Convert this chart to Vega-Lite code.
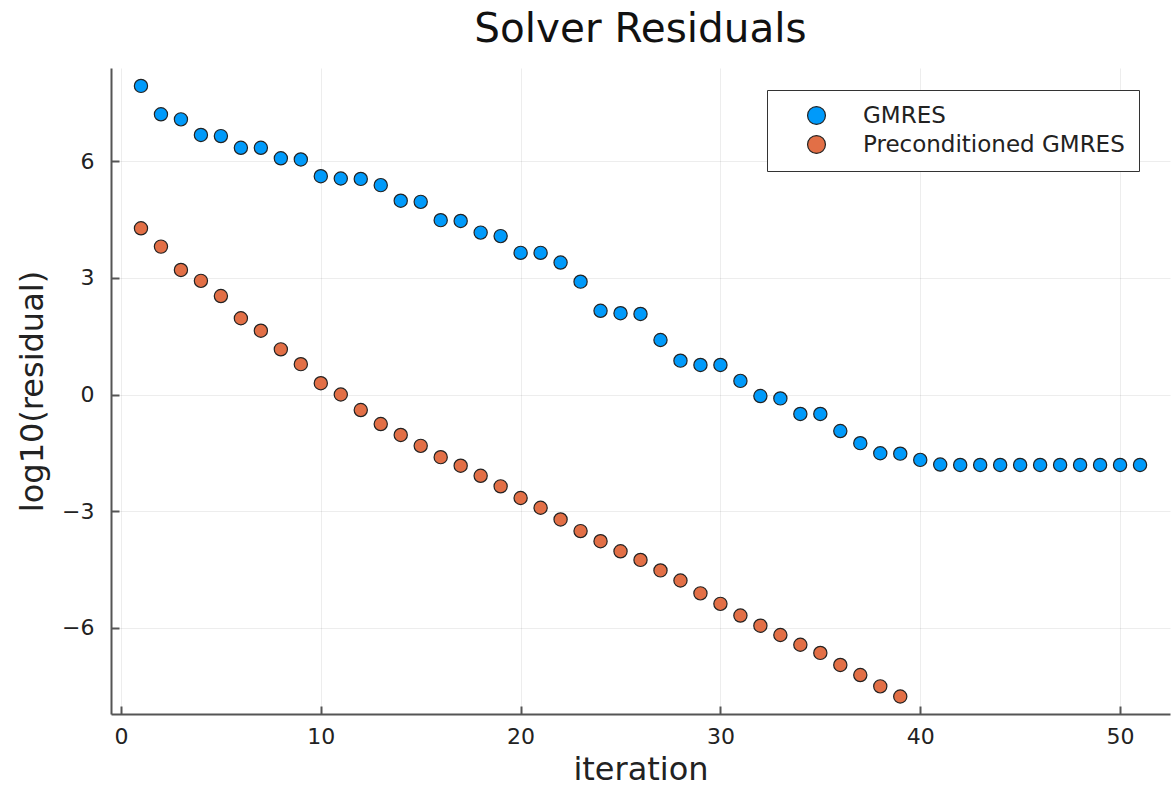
{
  "$schema": "https://vega.github.io/schema/vega-lite/v6.json",
  "width": 1059,
  "height": 646,
  "autosize": {"type": "none"},
  "padding": {"left": 111, "top": 68, "right": 1, "bottom": 77},
  "background": "white",
  "title": {
    "text": "Solver Residuals",
    "font": "DejaVu Sans",
    "fontSize": 40.5,
    "fontWeight": "normal",
    "color": "#111111",
    "anchor": "middle",
    "offset": 18
  },
  "config": {
    "view": {"stroke": null},
    "font": "DejaVu Sans"
  },
  "datasets": {
    "res": [
      {"iteration": 1, "residual": 7.93, "method": "GMRES"},
      {"iteration": 2, "residual": 7.20, "method": "GMRES"},
      {"iteration": 3, "residual": 7.07, "method": "GMRES"},
      {"iteration": 4, "residual": 6.67, "method": "GMRES"},
      {"iteration": 5, "residual": 6.64, "method": "GMRES"},
      {"iteration": 6, "residual": 6.34, "method": "GMRES"},
      {"iteration": 7, "residual": 6.34, "method": "GMRES"},
      {"iteration": 8, "residual": 6.07, "method": "GMRES"},
      {"iteration": 9, "residual": 6.04, "method": "GMRES"},
      {"iteration": 10, "residual": 5.61, "method": "GMRES"},
      {"iteration": 11, "residual": 5.55, "method": "GMRES"},
      {"iteration": 12, "residual": 5.54, "method": "GMRES"},
      {"iteration": 13, "residual": 5.38, "method": "GMRES"},
      {"iteration": 14, "residual": 4.98, "method": "GMRES"},
      {"iteration": 15, "residual": 4.95, "method": "GMRES"},
      {"iteration": 16, "residual": 4.48, "method": "GMRES"},
      {"iteration": 17, "residual": 4.46, "method": "GMRES"},
      {"iteration": 18, "residual": 4.16, "method": "GMRES"},
      {"iteration": 19, "residual": 4.07, "method": "GMRES"},
      {"iteration": 20, "residual": 3.64, "method": "GMRES"},
      {"iteration": 21, "residual": 3.64, "method": "GMRES"},
      {"iteration": 22, "residual": 3.39, "method": "GMRES"},
      {"iteration": 23, "residual": 2.90, "method": "GMRES"},
      {"iteration": 24, "residual": 2.15, "method": "GMRES"},
      {"iteration": 25, "residual": 2.09, "method": "GMRES"},
      {"iteration": 26, "residual": 2.07, "method": "GMRES"},
      {"iteration": 27, "residual": 1.40, "method": "GMRES"},
      {"iteration": 28, "residual": 0.87, "method": "GMRES"},
      {"iteration": 29, "residual": 0.76, "method": "GMRES"},
      {"iteration": 30, "residual": 0.76, "method": "GMRES"},
      {"iteration": 31, "residual": 0.35, "method": "GMRES"},
      {"iteration": 32, "residual": -0.04, "method": "GMRES"},
      {"iteration": 33, "residual": -0.10, "method": "GMRES"},
      {"iteration": 34, "residual": -0.50, "method": "GMRES"},
      {"iteration": 35, "residual": -0.50, "method": "GMRES"},
      {"iteration": 36, "residual": -0.94, "method": "GMRES"},
      {"iteration": 37, "residual": -1.25, "method": "GMRES"},
      {"iteration": 38, "residual": -1.51, "method": "GMRES"},
      {"iteration": 39, "residual": -1.52, "method": "GMRES"},
      {"iteration": 40, "residual": -1.68, "method": "GMRES"},
      {"iteration": 41, "residual": -1.80, "method": "GMRES"},
      {"iteration": 42, "residual": -1.81, "method": "GMRES"},
      {"iteration": 43, "residual": -1.81, "method": "GMRES"},
      {"iteration": 44, "residual": -1.81, "method": "GMRES"},
      {"iteration": 45, "residual": -1.81, "method": "GMRES"},
      {"iteration": 46, "residual": -1.81, "method": "GMRES"},
      {"iteration": 47, "residual": -1.81, "method": "GMRES"},
      {"iteration": 48, "residual": -1.81, "method": "GMRES"},
      {"iteration": 49, "residual": -1.81, "method": "GMRES"},
      {"iteration": 50, "residual": -1.81, "method": "GMRES"},
      {"iteration": 51, "residual": -1.81, "method": "GMRES"},
      {"iteration": 1, "residual": 4.27, "method": "Preconditioned GMRES"},
      {"iteration": 2, "residual": 3.80, "method": "Preconditioned GMRES"},
      {"iteration": 3, "residual": 3.20, "method": "Preconditioned GMRES"},
      {"iteration": 4, "residual": 2.92, "method": "Preconditioned GMRES"},
      {"iteration": 5, "residual": 2.53, "method": "Preconditioned GMRES"},
      {"iteration": 6, "residual": 1.96, "method": "Preconditioned GMRES"},
      {"iteration": 7, "residual": 1.64, "method": "Preconditioned GMRES"},
      {"iteration": 8, "residual": 1.16, "method": "Preconditioned GMRES"},
      {"iteration": 9, "residual": 0.78, "method": "Preconditioned GMRES"},
      {"iteration": 10, "residual": 0.29, "method": "Preconditioned GMRES"},
      {"iteration": 11, "residual": 0.00, "method": "Preconditioned GMRES"},
      {"iteration": 12, "residual": -0.40, "method": "Preconditioned GMRES"},
      {"iteration": 13, "residual": -0.76, "method": "Preconditioned GMRES"},
      {"iteration": 14, "residual": -1.04, "method": "Preconditioned GMRES"},
      {"iteration": 15, "residual": -1.32, "method": "Preconditioned GMRES"},
      {"iteration": 16, "residual": -1.61, "method": "Preconditioned GMRES"},
      {"iteration": 17, "residual": -1.83, "method": "Preconditioned GMRES"},
      {"iteration": 18, "residual": -2.09, "method": "Preconditioned GMRES"},
      {"iteration": 19, "residual": -2.36, "method": "Preconditioned GMRES"},
      {"iteration": 20, "residual": -2.66, "method": "Preconditioned GMRES"},
      {"iteration": 21, "residual": -2.91, "method": "Preconditioned GMRES"},
      {"iteration": 22, "residual": -3.21, "method": "Preconditioned GMRES"},
      {"iteration": 23, "residual": -3.51, "method": "Preconditioned GMRES"},
      {"iteration": 24, "residual": -3.77, "method": "Preconditioned GMRES"},
      {"iteration": 25, "residual": -4.03, "method": "Preconditioned GMRES"},
      {"iteration": 26, "residual": -4.25, "method": "Preconditioned GMRES"},
      {"iteration": 27, "residual": -4.52, "method": "Preconditioned GMRES"},
      {"iteration": 28, "residual": -4.78, "method": "Preconditioned GMRES"},
      {"iteration": 29, "residual": -5.11, "method": "Preconditioned GMRES"},
      {"iteration": 30, "residual": -5.38, "method": "Preconditioned GMRES"},
      {"iteration": 31, "residual": -5.68, "method": "Preconditioned GMRES"},
      {"iteration": 32, "residual": -5.94, "method": "Preconditioned GMRES"},
      {"iteration": 33, "residual": -6.18, "method": "Preconditioned GMRES"},
      {"iteration": 34, "residual": -6.43, "method": "Preconditioned GMRES"},
      {"iteration": 35, "residual": -6.64, "method": "Preconditioned GMRES"},
      {"iteration": 36, "residual": -6.95, "method": "Preconditioned GMRES"},
      {"iteration": 37, "residual": -7.21, "method": "Preconditioned GMRES"},
      {"iteration": 38, "residual": -7.50, "method": "Preconditioned GMRES"},
      {"iteration": 39, "residual": -7.76, "method": "Preconditioned GMRES"}
    ]
  },
  "data": {"name": "res"},
  "mark": {"type": "point", "shape": "circle", "filled": true, "size": 175, "stroke": "#222222", "strokeWidth": 1.2, "opacity": 1},
  "encoding": {
    "x": {
      "field": "iteration",
      "type": "quantitative",
      "scale": {"domain": [-0.5, 52.5], "nice": false, "zero": false},
      "axis": {
        "title": "iteration",
        "values": [0, 10, 20, 30, 40, 50],
        "grid": true,
        "gridColor": "#000000",
        "gridOpacity": 0.07,
        "gridWidth": 1,
        "domainColor": "#555555",
        "domainWidth": 2,
        "tickColor": "#555555",
        "tickWidth": 2,
        "tickSize": -8,
        "labelFontSize": 22,
        "labelColor": "#222222",
        "labelPadding": 20,
        "labelFont": "DejaVu Sans",
        "titleFont": "DejaVu Sans",
        "titleFontSize": 32,
        "titleFontWeight": "normal",
        "titleColor": "#222222",
        "titlePadding": 7
      }
    },
    "y": {
      "field": "residual",
      "type": "quantitative",
      "scale": {"domain": [-8.21, 8.39], "nice": false, "zero": false},
      "axis": {
        "title": "log10(residual)",
        "values": [-6, -3, 0, 3, 6],
        "format": "d",
        "grid": true,
        "gridColor": "#000000",
        "gridOpacity": 0.07,
        "gridWidth": 1,
        "domainColor": "#555555",
        "domainWidth": 2,
        "tickColor": "#555555",
        "tickWidth": 2,
        "tickSize": -8,
        "labelFontSize": 22,
        "labelColor": "#222222",
        "labelPadding": 25,
        "labelFont": "DejaVu Sans",
        "titleFont": "DejaVu Sans",
        "titleFontSize": 32,
        "titleFontWeight": "normal",
        "titleColor": "#222222",
        "titlePadding": 12
      }
    },
    "fill": {
      "field": "method",
      "type": "nominal",
      "scale": {"domain": ["GMRES", "Preconditioned GMRES"], "range": ["#009AFA", "#E26F46"]},
      "legend": {
        "title": null,
        "orient": "none",
        "legendX": 656,
        "legendY": 22,
        "fillColor": "white",
        "strokeColor": "#333333",
        "padding": 14,
        "rowPadding": 5,
        "symbolType": "circle",
        "symbolSize": 320,
        "symbolStrokeColor": "#222222",
        "symbolStrokeWidth": 1.2,
        "symbolOffset": 24,
        "labelOffset": 35,
        "labelFontSize": 23,
        "labelFont": "DejaVu Sans",
        "labelColor": "#222222",
        "labelLimit": 400,
        "encode": {"legend": {"update": {"strokeWidth": {"value": 1.5}}}}
      }
    }
  }
}
